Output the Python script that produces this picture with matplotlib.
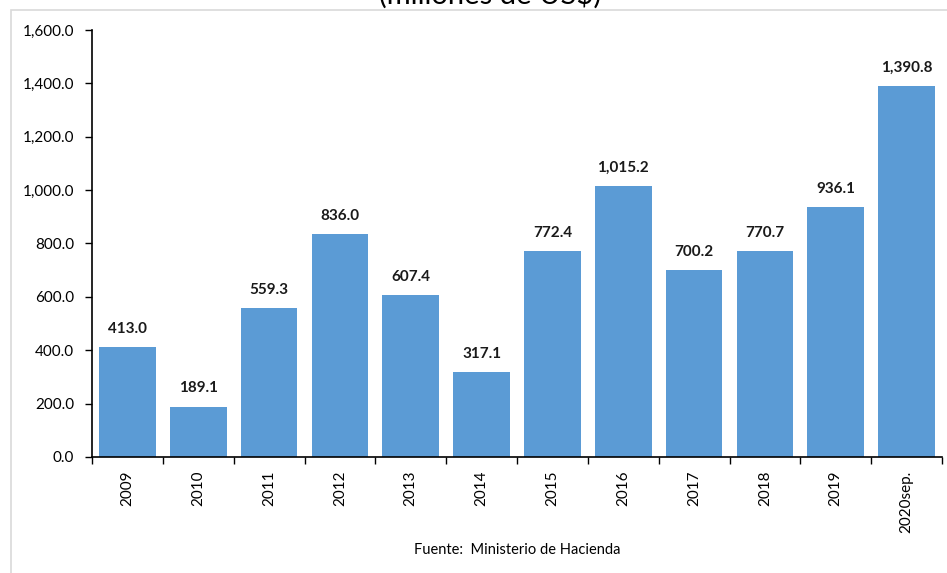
import matplotlib
matplotlib.use("Agg")
import matplotlib.pyplot as plt
from matplotlib.patches import Rectangle
from matplotlib.ticker import FixedLocator, FuncFormatter

categories = ["2009", "2010", "2011", "2012", "2013", "2014", "2015", "2016",
              "2017", "2018", "2019", "2020sep."]
values = [413.0, 189.1, 559.3, 836.0, 607.4, 317.1, 772.4, 1015.2,
          700.2, 770.7, 936.1, 1390.8]
yticks = [0, 200, 400, 600, 800, 1000, 1200, 1400, 1600]

plt.rcParams['font.family'] = ['Lato', 'DejaVu Sans']

W, H = 947, 573
fig = plt.figure(figsize=(W / 100, H / 100), dpi=100)

# outer border (chart area frame)
fig.patches.append(Rectangle((11 / W, -0.1), 1.2, 1 - 10 / H + 0.1,
                             transform=fig.transFigure, fill=False,
                             edgecolor="#D9D9D9", linewidth=1.2))

ax = fig.add_axes([92 / W, 1 - 457 / H, (942 - 92) / W, (457 - 30) / H])
x = list(range(len(categories)))
ax.bar(x, values, width=0.8, color="#5B9BD5", zorder=2)

for xi, v in zip(x, values):
    ax.annotate(f"{v:,.1f}", (xi, v), xytext=(0, 8), textcoords="offset points",
                ha="center", va="bottom", fontsize=11, fontweight="bold",
                color="#1a1a1a")

ax.set_xlim(-0.5, len(categories) - 0.5)
ax.set_ylim(0, 1600)
ax.set_yticks(yticks)
ax.yaxis.set_major_formatter(FuncFormatter(lambda v, p: f"{v:,.1f}"))
ax.tick_params(axis="y", direction="out", length=5, width=1, labelsize=11,
               pad=8, colors="black")

ax.set_xticks(x)
ax.set_xticklabels(categories, rotation=90, fontsize=11)
ax.tick_params(axis="x", which="major", length=0, pad=10)
ax.xaxis.set_minor_locator(FixedLocator([i - 0.5 for i in range(len(categories) + 1)]))
ax.tick_params(axis="x", which="minor", direction="out", length=5, width=1)

for s in ["top", "right"]:
    ax.spines[s].set_visible(False)
for s in ["left", "bottom"]:
    ax.spines[s].set_linewidth(1.2)
    ax.spines[s].set_color("black")

fig.text(490 / W, 1 - 4 / H, "(millones de US$)", ha="center", va="baseline",
         fontsize=21, color="black")
fig.text(517 / W, 1 - 550 / H, "Fuente:  Ministerio de Hacienda", ha="center",
         va="center", fontsize=10.5, color="black")

fig.savefig("out.png", dpi=100)
